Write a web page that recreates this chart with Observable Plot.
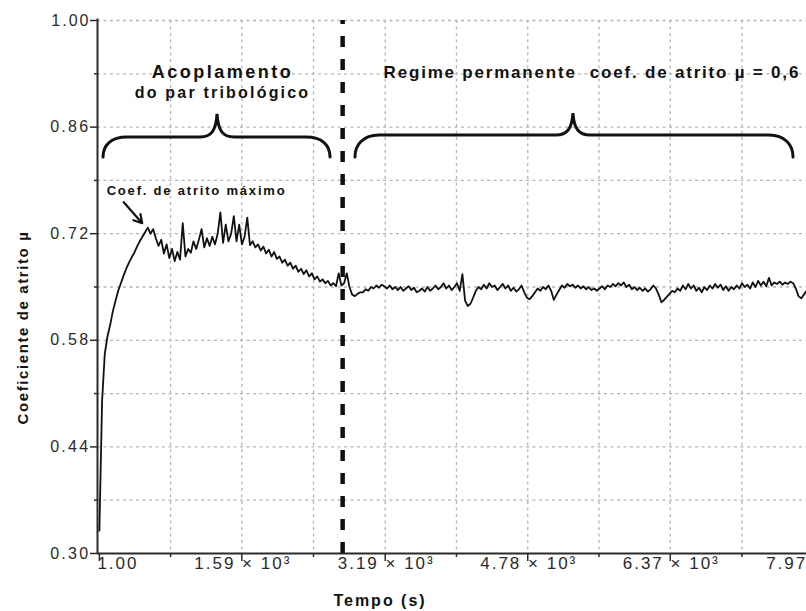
<!DOCTYPE html>
<html>
<head>
<meta charset="utf-8">
<script src="https://cdn.jsdelivr.net/npm/d3@7"></script>
<script src="https://cdn.jsdelivr.net/npm/@observablehq/plot@0.6"></script>
<style>
  html, body { margin: 0; padding: 0; background: #fff; }
  #chart { width: 806px; height: 611px; overflow: hidden; }
</style>
</head>
<body>
<div id="chart"></div>
<script>
// ---------- data ----------
const sampleStartSeconds = 1;
const sampleStepSeconds = 30;
const frictionValues = [
  0.33, 0.50, 0.562, 0.585, 0.600, 0.618, 0.632, 0.645, 0.655, 0.665,
  0.674, 0.682, 0.689, 0.695, 0.703, 0.710, 0.716, 0.722, 0.728, 0.720,
  0.726, 0.714, 0.704, 0.712, 0.694, 0.706, 0.688, 0.700, 0.684, 0.696,
  0.686, 0.734, 0.690, 0.700, 0.695, 0.710, 0.700, 0.712, 0.726, 0.702,
  0.714, 0.704, 0.716, 0.706, 0.720, 0.748, 0.708, 0.732, 0.710, 0.720,
  0.743, 0.710, 0.732, 0.706, 0.716, 0.741, 0.705, 0.710, 0.702, 0.706,
  0.698, 0.703, 0.694, 0.699, 0.690, 0.696, 0.687, 0.690, 0.682, 0.686,
  0.678, 0.682, 0.674, 0.678, 0.670, 0.674, 0.667, 0.672, 0.664, 0.668,
  0.660, 0.664, 0.657, 0.660, 0.655, 0.658, 0.652, 0.655, 0.651, 0.668,
  0.652, 0.655, 0.668, 0.650, 0.640, 0.638, 0.641, 0.643, 0.643, 0.647,
  0.645, 0.650, 0.648, 0.652, 0.649, 0.653, 0.651, 0.648, 0.652, 0.647,
  0.650, 0.646, 0.650, 0.645, 0.648, 0.651, 0.646, 0.649, 0.643, 0.645,
  0.648, 0.644, 0.650, 0.645, 0.648, 0.652, 0.647, 0.650, 0.655, 0.648,
  0.652, 0.646, 0.650, 0.655, 0.645, 0.667, 0.632, 0.625, 0.628, 0.636,
  0.645, 0.650, 0.647, 0.653, 0.648, 0.655, 0.650, 0.652, 0.646, 0.650,
  0.654, 0.648, 0.652, 0.645, 0.649, 0.644, 0.647, 0.652, 0.643, 0.636,
  0.634, 0.638, 0.643, 0.648, 0.645, 0.650, 0.647, 0.652, 0.645, 0.633,
  0.640, 0.646, 0.652, 0.649, 0.654, 0.651, 0.653, 0.649, 0.652, 0.648,
  0.651, 0.647, 0.650, 0.646, 0.648, 0.645, 0.648, 0.651, 0.647, 0.652,
  0.650, 0.654, 0.651, 0.655, 0.652, 0.656, 0.650, 0.653, 0.647, 0.650,
  0.646, 0.649, 0.645, 0.648, 0.644, 0.647, 0.652, 0.648, 0.640, 0.630,
  0.633, 0.637, 0.641, 0.645, 0.643, 0.648, 0.645, 0.652, 0.647, 0.654,
  0.648, 0.652, 0.645, 0.649, 0.643, 0.650, 0.646, 0.652, 0.648, 0.654,
  0.649, 0.653, 0.646, 0.651, 0.645, 0.650, 0.647, 0.652, 0.648, 0.655,
  0.650, 0.653, 0.648, 0.656, 0.650, 0.658, 0.652, 0.657, 0.651, 0.662,
  0.652, 0.656, 0.654, 0.657, 0.653, 0.656, 0.654, 0.657, 0.655, 0.648,
  0.638, 0.635, 0.640, 0.645
];

const xTickValues = [1, 1590, 3190, 4780, 6370, 7970];
const xTickLabels = ["1.00", "1.59 × 10³", "3.19 × 10³", "4.78 × 10³", "6.37 × 10³", "7.97 × 10³"];
const xMinorTicks = [795, 2390, 3985, 5575, 7170];
const yTickValues = [0.30, 0.44, 0.58, 0.72, 0.86, 1.00];
const yTickLabels = ["0.30", "0.44", "0.58", "0.72", "0.86", "1.00"];
const yMinorTicks = [0.37, 0.51, 0.65, 0.79, 0.93];
const transitionTime = 2715;

const xTitle = "Tempo (s)";
const yTitle = "Coeficiente de atrito µ";
const phaseTitle = "Acoplamento";
const phaseSubtitle = "do par tribológico";
const regimeText = "Regime permanente\u00a0 coef. de atrito µ = 0,6";
const maxText = "Coef. de atrito máximo";

// annotation anchors in data units (time s, µ)
const phaseTitleAt = {t: 1375, mu: 0.9317};
const phaseSubtitleAt = {t: 1375, mu: 0.9047};
const regimeAt = {t: 3172, mu: 0.9318};
const maxAt = {t: 1085, mu: 0.7767};
const xTitleAt = {t: 3132, mu: 0.2375};
const yTitleAt = {t: -846, mu: 0.5968};
const maxArrow = [{t1: 273, mu1: 0.7614, t2: 479, mu2: 0.7338}];
const braceSpans = [
  {tStart: 47, tEnd: 2580, tTip: 1319, muEnd: 0.8201, muMid: 0.8463, muTip: 0.8766},
  {tStart: 2858, tEnd: 7745, tTip: 5290, muEnd: 0.8201, muMid: 0.8490, muTip: 0.8779}
];

// letter spacing per text (the reference's lettering is wide)
const letterSpacing = new Map([
  [xTitle, "2px"], [yTitle, "1.6px"], [phaseTitle, "2.5px"], [phaseSubtitle, "2.2px"],
  [regimeText, "1.8px"], [maxText, "1.8px"]
]);
yTickLabels.forEach(s => letterSpacing.set(s, "2.3px"));
xTickLabels.forEach(s => letterSpacing.set(s, "2px"));

// ---------- build ----------
const series = frictionValues.map((mu, i) => ({t: sampleStartSeconds + i * sampleStepSeconds, mu}));
const xTicks = xTickValues.map((v, i) => ({v, label: xTickLabels[i]}));
const yTicks = yTickValues.map((v, i) => ({v, label: yTickLabels[i]}));
const xGrid = [...xTickValues.slice(1), ...xMinorTicks];
const yGrid = [...yTickValues.slice(1), ...yMinorTicks];

const xMin = -20, xMax = 7890, yMin = 0.30, yMax = 1.00;
const secPerPx = (xMax - xMin) / 709;
const muPerPx = (yMax - yMin) / 533;

function braceMark(list) {
  return (index, scales) => {
    const g = d3.create("svg:g").attr("aria-label", "braces")
      .attr("fill", "none").attr("stroke", "#111").attr("stroke-width", 3).attr("stroke-linecap", "round");
    for (const b of list) {
      const x0 = scales.x(b.tStart), x1 = scales.x(b.tEnd), xt = scales.x(b.tTip);
      const ye = scales.y(b.muEnd), ym = scales.y(b.muMid), yt = scales.y(b.muTip);
      const r = 24, rt = 17;
      const p = d3.path();
      p.moveTo(x0, ye);
      p.bezierCurveTo(x0, ye - 12, x0 + 8, ym, x0 + r, ym);
      p.lineTo(xt - rt, ym);
      p.bezierCurveTo(xt - 6, ym, xt - 1, ym - 6, xt, yt);
      p.bezierCurveTo(xt + 1, ym - 6, xt + 6, ym, xt + rt, ym);
      p.lineTo(x1 - r, ym);
      p.bezierCurveTo(x1 - 8, ym, x1, ye - 12, x1, ye);
      g.append("path").attr("d", p.toString());
    }
    return g.node();
  };
}

const chart = Plot.plot({
  width: 806,
  height: 611,
  marginLeft: 97,
  marginRight: 0,
  marginTop: 20,
  marginBottom: 58,
  x: {domain: [xMin, xMax], axis: null},
  y: {domain: [yMin, yMax], axis: null},
  style: {fontFamily: "'Liberation Sans', Arial, Helvetica, sans-serif", background: "#fff", color: "#111"},
  marks: [
    // grid
    Plot.ruleY(yGrid, {stroke: "#b5b5b5", strokeWidth: 1.3, strokeDasharray: "3,3.5"}),
    Plot.ruleX(xGrid, {stroke: "#b5b5b5", strokeWidth: 1.3, strokeDasharray: "3,3.5"}),
    // axis lines
    Plot.ruleY([yMin], {stroke: "#2a2a2a", strokeWidth: 2}),
    Plot.ruleX([xMin], {y1: yMin, y2: yMax + 1.5 * muPerPx, stroke: "#2a2a2a", strokeWidth: 2}),
    // ticks
    Plot.ruleY(yTickValues, {x1: xMin - 7 * secPerPx, x2: xMin, stroke: "#2a2a2a", strokeWidth: 1.5}),
    Plot.ruleY(yMinorTicks, {x1: xMin - 3 * secPerPx, x2: xMin, stroke: "#2a2a2a", strokeWidth: 1.5}),
    Plot.ruleX(xTickValues, {y1: yMin, y2: yMin - 8 * muPerPx, stroke: "#2a2a2a", strokeWidth: 1.5}),
    Plot.ruleX(xMinorTicks, {y1: yMin, y2: yMin - 4 * muPerPx, stroke: "#2a2a2a", strokeWidth: 1.5}),
    // tick labels
    Plot.text(yTicks, {y: "v", text: "label", frameAnchor: "left", textAnchor: "end", dx: -7, fontSize: 16, fill: "#2a2a2a"}),
    Plot.text(xTicks.slice(0, 1), {x: "v", text: "label", frameAnchor: "bottom", textAnchor: "start", dx: -2, dy: 15, fontSize: 17, fill: "#2a2a2a"}),
    Plot.text(xTicks.slice(1), {x: "v", text: "label", frameAnchor: "bottom", textAnchor: "middle", dx: 1, dy: 15, fontSize: 17, fill: "#2a2a2a"}),
    // axis titles
    Plot.text([xTitleAt], {x: "t", y: "mu", text: () => xTitle, fontSize: 16, fontWeight: "bold", fill: "#111"}),
    Plot.text([yTitleAt], {x: "t", y: "mu", text: () => yTitle, rotate: -90, fontSize: 15, fontWeight: "bold", fill: "#111"}),
    // transition line
    Plot.ruleX([transitionTime], {y1: yMin, y2: yMax, stroke: "#111", strokeWidth: 4.5, strokeDasharray: "11,12"}),
    // data curve
    Plot.line(series, {x: "t", y: "mu", stroke: "#111", strokeWidth: 1.8}),
    // annotations
    braceMark(braceSpans),
    Plot.text([phaseTitleAt], {x: "t", y: "mu", text: () => phaseTitle, fontSize: 18, fontWeight: "bold", fill: "#111"}),
    Plot.text([phaseSubtitleAt], {x: "t", y: "mu", text: () => phaseSubtitle, fontSize: 16, fontWeight: "bold", fill: "#111"}),
    Plot.text([regimeAt], {x: "t", y: "mu", text: () => regimeText, textAnchor: "start", fontSize: 17, fontWeight: "bold", fill: "#111"}),
    Plot.text([maxAt], {x: "t", y: "mu", text: () => maxText, fontSize: 13, fontWeight: "bold", fill: "#111"}),
    Plot.arrow(maxArrow, {x1: "t1", y1: "mu1", x2: "t2", y2: "mu2", stroke: "#111", strokeWidth: 2.2, headLength: 10})
  ]
});

d3.select(chart).selectAll("text").each(function () {
  const ls = letterSpacing.get(this.textContent);
  if (ls) this.style.letterSpacing = ls;
});

document.getElementById("chart").appendChild(chart);
</script>
</body>
</html>
